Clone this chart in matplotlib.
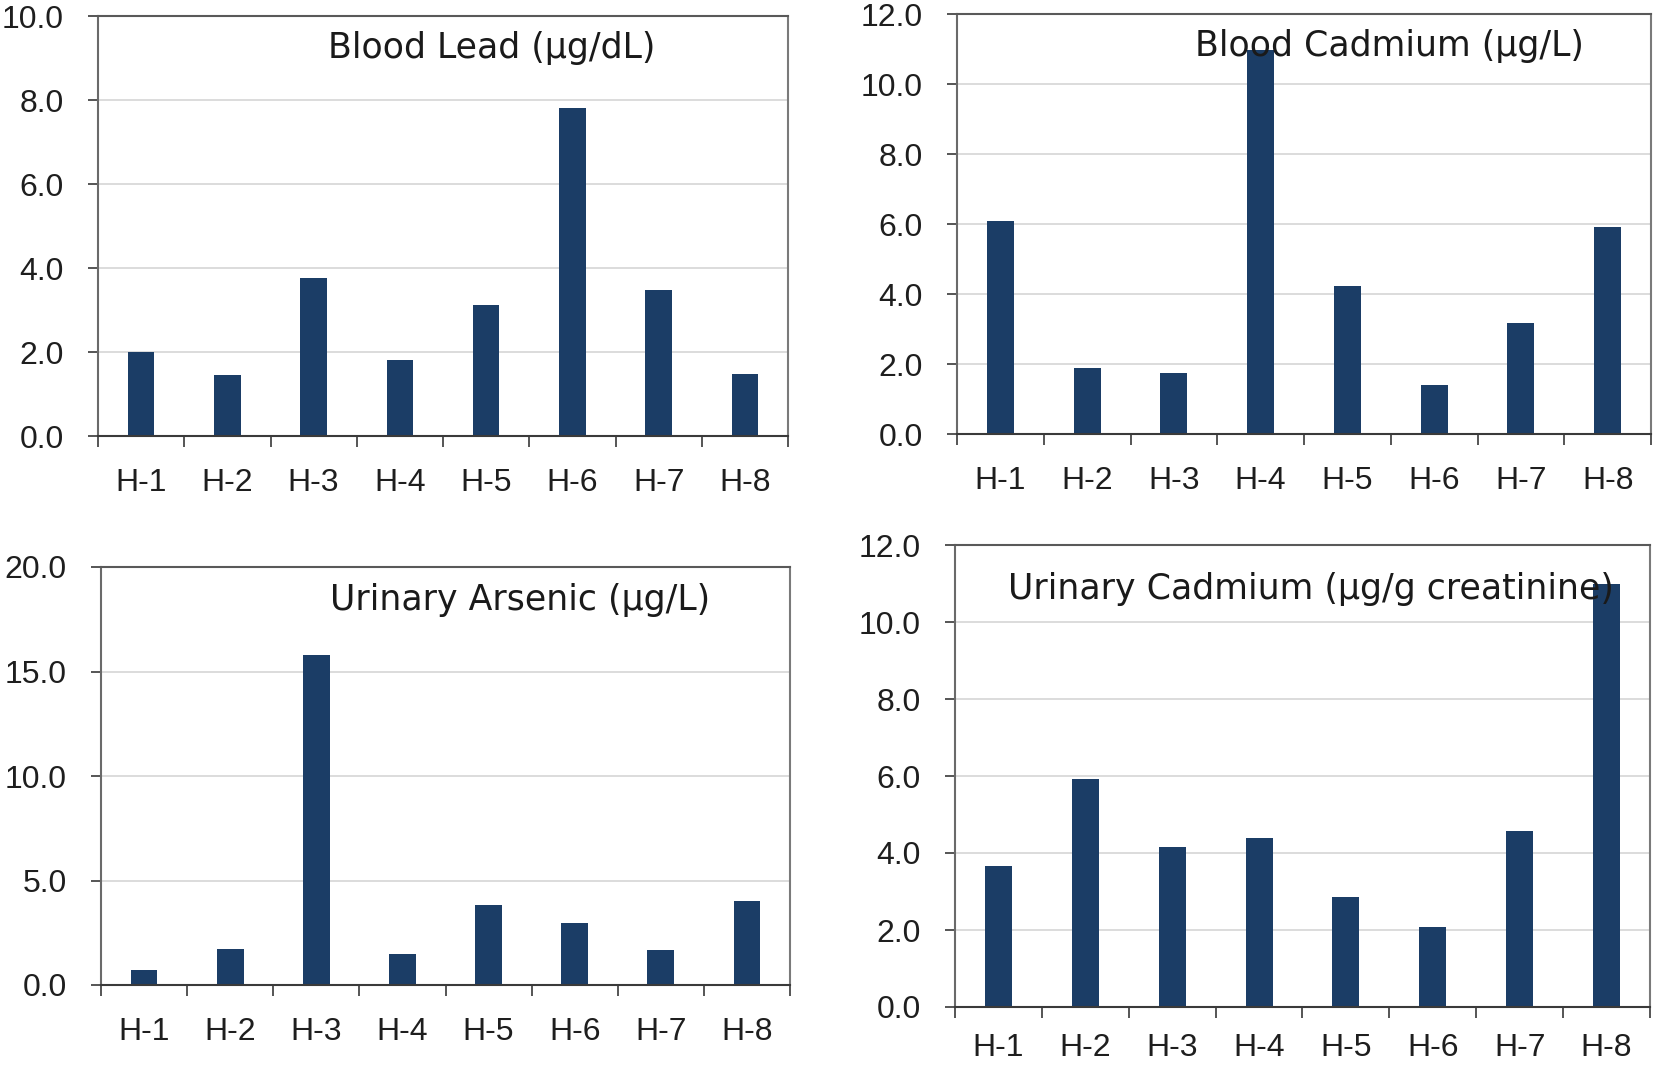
import numpy as np
import matplotlib.pyplot as plt
from matplotlib.ticker import FormatStrFormatter, FixedLocator

plt.rcParams['font.family'] = ['Liberation Sans', 'DejaVu Sans']

homes = ['H-1', 'H-2', 'H-3', 'H-4', 'H-5', 'H-6', 'H-7', 'H-8']
blood_lead = [2.0, 1.46, 3.77, 1.81, 3.12, 7.8, 3.47, 1.47]
blood_cd = [6.09, 1.88, 1.74, 10.98, 4.24, 1.39, 3.16, 5.91]
urine_as = [0.7, 1.72, 15.8, 1.46, 3.83, 2.96, 1.67, 4.03]
urine_cd = [3.66, 5.91, 4.15, 4.39, 2.87, 2.09, 4.58, 10.98]

titles = ['Blood Lead (µg/dL)', 'Blood Cadmium (µg/L)',
          'Urinary Arsenic (µg/L)', 'Urinary Cadmium (µg/g creatinine)']
ymax = [10, 12, 20, 12]
ystep = [2, 2, 5, 2]
title_pos = [(0.570, 0.900), (0.623, 0.900), (0.608, 0.897), (0.512, 0.883)]
# axes boxes in pixels: left, right, top, bottom
boxes = [(98, 788, 16, 436), (957, 1651, 14, 434),
         (101, 790, 567, 985), (955, 1650, 545, 1007)]
xpads = [23, 23, 23, 19]

W, H = 1654, 1065
fig = plt.figure(figsize=(W / 100, H / 100), dpi=100)
bar_color = '#1b3d66'
txt = '#1e1e1e'

for i, vals in enumerate([blood_lead, blood_cd, urine_as, urine_cd]):
    l, r, t, b = boxes[i]
    ax = fig.add_axes([l / W, 1 - b / H, (r - l) / W, (b - t) / H])
    x = np.arange(len(homes))
    ax.bar(x, vals, width=0.31, color=bar_color, zorder=2)
    ax.set_xlim(-0.5, len(homes) - 0.5)
    ax.set_ylim(0, ymax[i])
    ax.set_yticks(np.arange(0, ymax[i] + 0.01, ystep[i]))
    ax.yaxis.set_major_formatter(FormatStrFormatter('%.1f'))
    ax.grid(axis='y', color='#d9d9d9', linewidth=1.3, zorder=0)
    ax.set_xticks(x)
    ax.set_xticklabels(homes)
    ax.xaxis.set_minor_locator(FixedLocator(np.arange(-0.5, len(homes), 1)))
    ax.tick_params(axis='x', which='major', length=0, pad=xpads[i], labelsize=23, colors=txt)
    ax.tick_params(axis='x', which='minor', length=8, width=1.4, color='#555555')
    ax.tick_params(axis='y', length=7.5, width=1.4, color='#555555', labelsize=23,
                   labelcolor=txt, pad=17)
    ax.spines['top'].set_color('#595959')
    ax.spines['right'].set_color('#7a7a7a')
    ax.spines['left'].set_color('#6a6a6a')
    ax.spines['bottom'].set_color('#3a3a3a')
    for s in ax.spines.values():
        s.set_linewidth(1.5)
    ax.text(title_pos[i][0], title_pos[i][1], titles[i], transform=ax.transAxes,
            ha='center', va='baseline', fontsize=25, color='#1a1a1a', zorder=5,
            family=['DejaVu Sans'])

fig.savefig('out.png', dpi=100)
